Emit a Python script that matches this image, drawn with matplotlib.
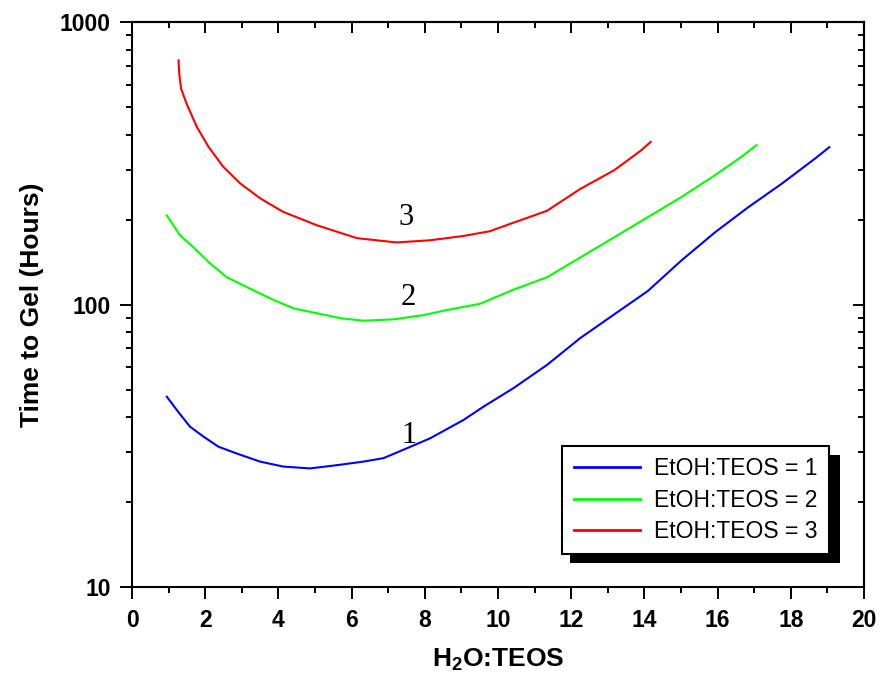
import numpy as np
import matplotlib
matplotlib.use('Agg')
import matplotlib.pyplot as plt
from matplotlib.patches import Rectangle
from matplotlib.transforms import IdentityTransform
from matplotlib.ticker import FixedLocator, LogLocator, NullFormatter, FixedFormatter

plt.rcParams['font.family'] = ['Liberation Sans', 'DejaVu Sans']
plt.rcParams['font.weight'] = 'bold'
plt.rcParams['mathtext.fontset'] = 'custom'
plt.rcParams['mathtext.bf'] = 'Liberation Sans:bold'
plt.rcParams['mathtext.rm'] = 'Liberation Sans'

# EtOH:TEOS = 1
x1 = [0.95, 1.22, 1.58, 1.95, 2.36, 2.86, 3.50, 4.13, 4.86, 5.59, 6.32, 6.87, 7.51, 8.14,
      9.05, 9.6, 10.42, 11.34, 12.25, 13.17, 14.09, 15.0, 15.92, 16.83, 17.75, 18.66, 19.05]
y1 = [47.2, 42.4, 37.0, 34.1, 31.4, 29.7, 27.8, 26.7, 26.3, 27.0, 27.8, 28.6, 31.0, 33.6,
      39.0, 43.5, 50.6, 61.2, 76.2, 92.3, 111.7, 143, 180, 221, 268, 329, 361]

# EtOH:TEOS = 2
x2 = [0.95, 1.31, 1.67, 2.13, 2.59, 3.22, 3.86, 4.41, 5.09, 5.7, 6.32, 7.14, 7.96, 8.60,
      9.51, 10.42, 11.34, 12.25, 13.17, 14.09, 15.0, 15.92, 16.64, 17.06]
y2 = [207, 176, 160, 140, 125, 114, 104, 97, 93, 89.5, 87.7, 88.7, 91.8, 95.7,
      100.7, 113, 125, 147, 173, 204, 240, 287, 333, 367]

# EtOH:TEOS = 3
x3 = [1.27, 1.29, 1.34, 1.49, 1.77, 2.09, 2.49, 2.95, 3.50, 4.13, 5.05, 6.14, 7.23, 8.14,
      9.05, 9.78, 10.42, 11.34, 12.25, 13.17, 13.90, 14.17]
y3 = [733, 658, 582, 515, 426, 362, 308, 269, 238, 213, 191, 172, 166, 169,
      175, 182, 195, 215, 257, 299, 351, 377]

labels = ['EtOH:TEOS = 1', 'EtOH:TEOS = 2', 'EtOH:TEOS = 3']
colors = ['#0000ff', '#00ff00', '#ff0000']

# curve numbers written on the plot
tag_text = ['1', '2', '3']
tag_x = [7.58, 7.55, 7.5]
tag_y = [34.5, 106, 204]

x_ticks = [0, 2, 4, 6, 8, 10, 12, 14, 16, 18, 20]
y_ticks = [10, 100, 1000]

fig = plt.figure(figsize=(8.82, 6.78), dpi=100)
ax = fig.add_axes([0.1497, 0.1342, 0.830, 0.833])

for xs, ys, c, lab in zip([x1, x2, x3], [y1, y2, y3], colors, labels):
    ax.plot(xs, ys, color=c, lw=1.5, label=lab)

for t, tx, ty in zip(tag_text, tag_x, tag_y):
    ax.text(tx, ty, t, ha='center', va='center', fontsize=22,
            family='Liberation Serif', fontweight='normal')

ax.set_yscale('log')
ax.set_xlim(0, 20)
ax.set_ylim(10, 1000)

ax.xaxis.set_major_locator(FixedLocator(x_ticks))
ax.xaxis.set_minor_locator(FixedLocator(np.arange(1, 20, 2)))
ax.yaxis.set_major_locator(FixedLocator(y_ticks))
ax.yaxis.set_major_formatter(FixedFormatter([str(v) for v in y_ticks]))
ax.yaxis.set_minor_locator(LogLocator(base=10, subs=np.arange(2, 10)))
ax.yaxis.set_minor_formatter(NullFormatter())

ax.tick_params(which='major', direction='out', length=8.5, width=1.4, pad=7)
ax.tick_params(which='minor', direction='out', length=4.5, width=1.4)
ax.tick_params(axis='x', labelsize=16.5)
ax.tick_params(axis='y', labelsize=16.5)

for s in ax.spines.values():
    s.set_linewidth(1.5)

# inward ticks on top and right
top = ax.secondary_xaxis('top')
top.xaxis.set_major_locator(FixedLocator(x_ticks))
top.xaxis.set_minor_locator(FixedLocator(np.arange(1, 20, 2)))
top.tick_params(which='major', direction='in', length=8, width=1.4, labeltop=False)
top.tick_params(which='minor', direction='in', length=4, width=1.4)
top.spines['top'].set_linewidth(1.5)

right = ax.secondary_yaxis('right')
right.set_yscale('log')
right.yaxis.set_major_locator(FixedLocator(y_ticks))
right.yaxis.set_minor_locator(LogLocator(base=10, subs=np.arange(2, 10)))
right.yaxis.set_minor_formatter(NullFormatter())
right.tick_params(which='major', direction='in', length=8, width=1.4, labelright=False)
right.tick_params(which='minor', direction='in', length=4, width=1.4)
right.spines['right'].set_linewidth(1.5)

ax.set_xlabel(r'H$_\mathbf{2}$O:TEOS', fontsize=19, fontweight='bold', labelpad=11)
ax.set_ylabel('Time to Gel (Hours)', fontsize=19, fontweight='bold', labelpad=11)

leg = ax.legend(loc='upper right', bbox_to_anchor=(0.952, 0.25), borderaxespad=0,
                prop={'size': 16.5, 'weight': 'normal'},
                handlelength=2.9, handletextpad=0.6, borderpad=0.5,
                labelspacing=0.36, fancybox=False, framealpha=1, edgecolor='black')
leg.get_frame().set_linewidth(1.5)
for h in leg.get_lines():
    h.set_linewidth(2)

# hard black drop shadow under the legend box
fig.canvas.draw()
bb = leg.get_window_extent()
shadow = Rectangle((bb.x0 + 8, bb.y0 - 9), bb.width + 3, bb.height,
                   facecolor='black', edgecolor='none',
                   transform=IdentityTransform(), zorder=4.9, clip_on=False)
ax.add_artist(shadow)

fig.savefig('out.png', dpi=100)
